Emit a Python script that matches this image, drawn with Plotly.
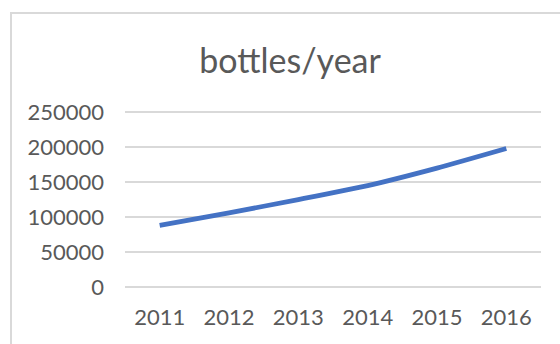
import plotly.graph_objects as go

years = ["2011", "2012", "2013", "2014", "2015", "2016"]
bottles = [88000, 106000, 125000, 145000, 170000, 198000]
y_ticks = [0, 50000, 100000, 150000, 200000, 250000]
title_text = "bottles/year"

FONT = "Lato, 'Open Sans', sans-serif"
GRAY = "#595959"

fig = go.Figure(
    go.Scatter(
        x=years,
        y=bottles,
        mode="lines",
        line=dict(color="#4472C4", width=4.8, shape="spline", smoothing=0.6),
        hoverinfo="skip",
    )
)

fig.update_layout(
    width=560,
    height=344,
    margin=dict(l=125, r=19, t=110, b=57),
    paper_bgcolor="white",
    plot_bgcolor="white",
    showlegend=False,
    title=dict(
        text=title_text,
        x=0.518,
        xanchor="center",
        xref="container",
        yref="container",
        y=1 - 61 / 344,
        yanchor="middle",
        font=dict(family=FONT, size=34, color=GRAY),
    ),
    font=dict(family=FONT, color=GRAY),
)

fig.update_xaxes(
    type="category",
    showline=False,
    showgrid=False,
    zeroline=False,
    ticks="",
    tickfont=dict(family=FONT, size=22, color=GRAY),
    ticklabelstandoff=15,
    range=[-0.5, 5.5],
)

fig.update_yaxes(
    range=[0, 253000],
    tickvals=y_ticks,
    ticktext=[str(v) for v in y_ticks],
    showgrid=True,
    gridcolor="#D9D9D9",
    gridwidth=1.5,
    zeroline=True,
    zerolinecolor="#D9D9D9",
    zerolinewidth=1.5,
    showline=False,
    ticks="",
    tickfont=dict(family=FONT, size=22, color=GRAY),
    ticklabelstandoff=20,
)

# outer chart border (left and top edges visible, rest cropped)
fig.add_shape(
    type="rect",
    xref="paper",
    yref="paper",
    x0=(11 - 125) / 416,
    x1=(600 - 125) / 416,
    y0=(287 - 360) / 177,
    y1=(287 - 13) / 177,
    line=dict(color="#D9D9D9", width=2),
    fillcolor="rgba(0,0,0,0)",
    layer="below",
)

fig.write_html(
    "out.html",
    config={"displayModeBar": False},
    post_script="document.body.style.margin='0';document.body.style.overflow='hidden';",
)
